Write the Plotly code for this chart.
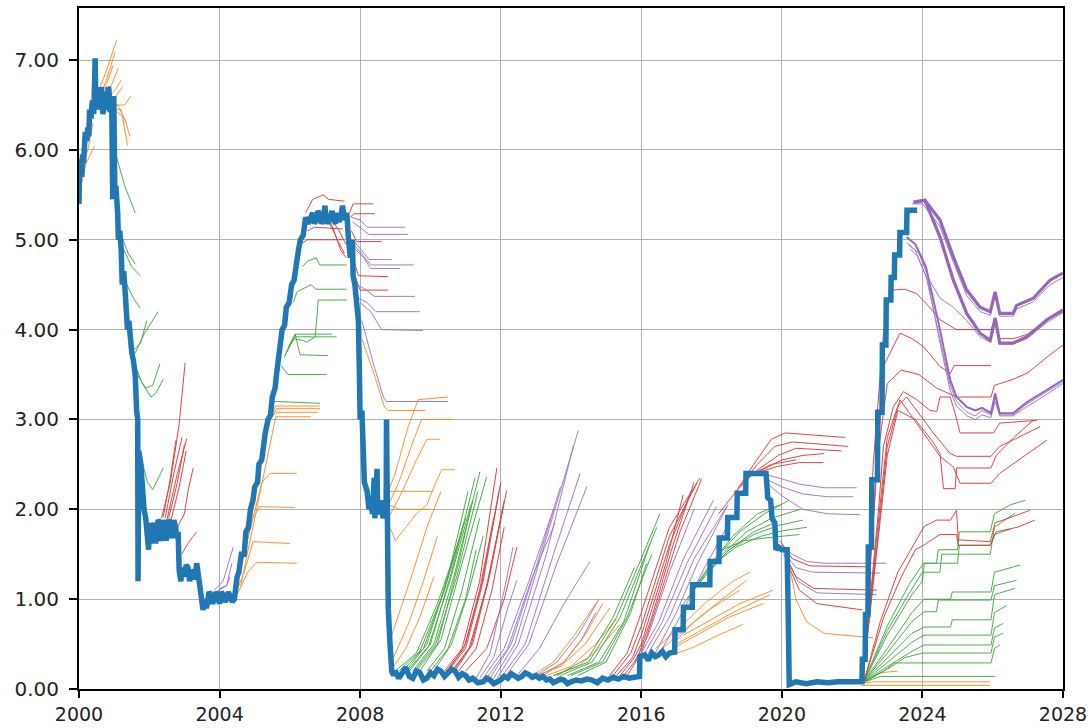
import plotly.graph_objects as go

BLUE = "#1f77b4"
ORANGE = "#ff7f0e"
GREEN = "#2ca02c"
RED = "#d62728"
PURPLE = "#9467bd"

# ---------------- realised short rate (thick blue) ----------------
blue_years = [
    2000.00, 2000.02, 2000.04, 2000.05, 2000.08, 2000.10, 2000.13, 2000.15, 2000.18, 2000.22,
    2000.25, 2000.28, 2000.30, 2000.34, 2000.38, 2000.42, 2000.46, 2000.48, 2000.52, 2000.55,
    2000.58, 2000.60, 2000.63, 2000.65, 2000.68, 2000.70, 2000.73, 2000.75, 2000.78, 2000.80,
    2000.83, 2000.85, 2000.88, 2000.90, 2000.93, 2000.96, 2000.99, 2001.02, 2001.05, 2001.10,
    2001.12, 2001.16, 2001.20, 2001.23, 2001.27, 2001.30, 2001.33, 2001.38, 2001.42, 2001.45,
    2001.50, 2001.55, 2001.60, 2001.64, 2001.67, 2001.68, 2001.70, 2001.76, 2001.80, 2001.85,
    2001.90, 2001.95, 2001.98, 2002.00, 2002.03, 2002.05, 2002.08, 2002.10, 2002.13, 2002.15,
    2002.18, 2002.20, 2002.25, 2002.30, 2002.33, 2002.35, 2002.40, 2002.45, 2002.48, 2002.50,
    2002.55, 2002.60, 2002.63, 2002.65, 2002.70, 2002.75, 2002.78, 2002.82, 2002.85, 2002.90,
    2002.93, 2002.95, 2003.00, 2003.05, 2003.10, 2003.15, 2003.20, 2003.25, 2003.30, 2003.35,
    2003.40, 2003.45, 2003.50, 2003.53, 2003.58, 2003.62, 2003.65, 2003.70, 2003.75, 2003.80,
    2003.85, 2003.90, 2003.95, 2004.00, 2004.05, 2004.10, 2004.15, 2004.20, 2004.25, 2004.30,
    2004.36, 2004.42, 2004.45, 2004.50, 2004.55, 2004.62, 2004.70, 2004.75, 2004.82, 2004.88,
    2004.95, 2005.00, 2005.08, 2005.12, 2005.20, 2005.25, 2005.30, 2005.38, 2005.45, 2005.50,
    2005.58, 2005.62, 2005.70, 2005.78, 2005.85, 2005.90, 2005.98, 2006.05, 2006.12, 2006.18,
    2006.25, 2006.30, 2006.38, 2006.45, 2006.52, 2006.60, 2006.65, 2006.70, 2006.75, 2006.80,
    2006.85, 2006.90, 2006.95, 2007.00, 2007.02, 2007.08, 2007.15, 2007.20, 2007.25, 2007.30,
    2007.35, 2007.40, 2007.45, 2007.50, 2007.55, 2007.62, 2007.66, 2007.72, 2007.78, 2007.80,
    2007.85, 2007.90, 2007.95, 2007.98, 2008.00, 2008.05, 2008.08, 2008.12, 2008.20, 2008.25,
    2008.30, 2008.35, 2008.40, 2008.42, 2008.48, 2008.50, 2008.55, 2008.60, 2008.65, 2008.70,
    2008.74, 2008.75, 2008.76, 2008.80, 2008.85, 2008.90, 2008.95, 2009.00, 2009.10, 2009.20,
    2009.30, 2009.40, 2009.50, 2009.60, 2009.70, 2009.80, 2009.90, 2010.00, 2010.10, 2010.20,
    2010.30, 2010.40, 2010.50, 2010.60, 2010.70, 2010.80, 2010.90, 2011.00, 2011.10, 2011.20,
    2011.35, 2011.50, 2011.60, 2011.70, 2011.80, 2011.90, 2012.00, 2012.10, 2012.20, 2012.30,
    2012.40, 2012.50, 2012.60, 2012.70, 2012.80, 2012.90, 2013.00, 2013.10, 2013.20, 2013.30,
    2013.40, 2013.50, 2013.60, 2013.70, 2013.80, 2013.90, 2014.00, 2014.15, 2014.30, 2014.45,
    2014.60, 2014.75, 2014.90, 2015.05, 2015.20, 2015.35, 2015.50, 2015.65, 2015.80, 2015.95,
    2015.96, 2016.10, 2016.20, 2016.30, 2016.40, 2016.50, 2016.60, 2016.70, 2016.80, 2016.95,
    2016.96, 2017.19, 2017.20, 2017.45, 2017.46, 2017.95, 2017.96, 2018.21, 2018.22, 2018.45,
    2018.46, 2018.72, 2018.73, 2018.97, 2018.98, 2019.20, 2019.40, 2019.55, 2019.60, 2019.68,
    2019.72, 2019.80, 2019.83, 2019.90, 2020.00, 2020.15, 2020.17, 2020.21, 2020.40, 2020.70,
    2021.00, 2021.30, 2021.60, 2021.90, 2022.20, 2022.28, 2022.29, 2022.37, 2022.38, 2022.45,
    2022.46, 2022.55, 2022.56, 2022.72, 2022.73, 2022.85, 2022.86, 2022.96, 2022.97, 2023.10,
    2023.11, 2023.20, 2023.21, 2023.35, 2023.36, 2023.55, 2023.56, 2023.85,
]
blue_rates = [
    5.40, 5.90, 5.65, 5.80, 5.70, 5.95, 5.85, 6.00, 6.20, 6.10,
    6.25, 6.15, 6.45, 6.35, 6.55, 6.40, 7.02, 6.45, 6.65, 6.70,
    6.45, 6.50, 6.70, 6.65, 6.40, 6.45, 6.65, 6.60, 6.45, 6.50,
    6.70, 6.68, 6.45, 6.45, 6.60, 5.45, 6.60, 5.50, 5.60, 5.30,
    5.00, 5.10, 4.90, 4.50, 4.65, 4.50, 4.20, 4.00, 4.10, 3.90,
    3.75, 3.65, 3.50, 3.10, 3.00, 1.20, 2.65, 2.50, 2.20, 2.00,
    1.90, 1.70, 1.55, 1.75, 1.62, 1.85, 1.68, 1.65, 1.85, 1.80,
    1.62, 1.70, 1.88, 1.85, 1.65, 1.70, 1.88, 1.80, 1.65, 1.70,
    1.88, 1.85, 1.68, 1.72, 1.88, 1.80, 1.68, 1.75, 1.32, 1.20,
    1.35, 1.32, 1.25, 1.38, 1.35, 1.20, 1.32, 1.30, 1.22, 1.40,
    1.25, 1.05, 0.95, 0.88, 1.00, 0.90, 0.95, 1.08, 1.05, 0.95,
    1.00, 1.08, 1.02, 0.95, 1.08, 1.05, 0.97, 1.00, 1.08, 1.03,
    0.97, 1.00, 1.10, 1.25, 1.30, 1.50, 1.50, 1.75, 1.80, 2.00,
    2.10, 2.25, 2.30, 2.50, 2.55, 2.75, 2.85, 3.00, 3.05, 3.25,
    3.35, 3.50, 3.75, 4.00, 4.05, 4.25, 4.30, 4.50, 4.55, 4.75,
    4.90, 5.00, 5.05, 5.25, 5.18, 5.25, 5.30, 5.18, 5.22, 5.32,
    5.28, 5.18, 5.22, 5.38, 5.25, 5.18, 5.28, 5.32, 5.22, 5.18,
    5.30, 5.20, 5.25, 5.38, 5.22, 5.30, 5.05, 4.80, 5.00, 4.60,
    4.50, 4.25, 4.10, 3.50, 3.00, 3.10, 2.75, 2.30, 2.20, 2.00,
    2.10, 1.95, 2.35, 1.90, 2.45, 1.95, 2.00, 2.10, 1.90, 2.00,
    2.05, 3.00, 1.50, 0.90, 0.50, 0.20, 0.15, 0.20, 0.12, 0.18,
    0.24, 0.14, 0.12, 0.20, 0.18, 0.10, 0.12, 0.18, 0.15, 0.22,
    0.20, 0.14, 0.18, 0.22, 0.20, 0.13, 0.17, 0.15, 0.10, 0.12,
    0.07, 0.08, 0.12, 0.10, 0.06, 0.08, 0.10, 0.14, 0.12, 0.17,
    0.15, 0.12, 0.14, 0.18, 0.16, 0.13, 0.15, 0.12, 0.14, 0.10,
    0.11, 0.07, 0.09, 0.11, 0.10, 0.06, 0.08, 0.10, 0.09, 0.11,
    0.10, 0.07, 0.12, 0.10, 0.13, 0.11, 0.14, 0.12, 0.13, 0.14,
    0.36, 0.38, 0.32, 0.40, 0.36, 0.38, 0.42, 0.36, 0.40, 0.41,
    0.66, 0.66, 0.91, 0.91, 1.16, 1.16, 1.42, 1.42, 1.68, 1.68,
    1.91, 1.91, 2.18, 2.18, 2.40, 2.40, 2.40, 2.40, 2.13, 2.10,
    1.90, 1.85, 1.55, 1.58, 1.55, 1.55, 1.10, 0.05, 0.08, 0.06,
    0.08, 0.07, 0.08, 0.08, 0.08, 0.08, 0.33, 0.33, 0.83, 0.83,
    1.58, 1.58, 2.33, 2.33, 3.08, 3.08, 3.83, 3.83, 4.33, 4.33,
    4.58, 4.58, 4.83, 4.83, 5.08, 5.08, 5.33, 5.33,
]

# ---------------- forward curves (years, rates) ----------------
orange_2000 = [
    ([2000.0, 2000.2, 2000.45], [5.5, 5.85, 6.05]),
    ([2000.05, 2000.25, 2000.4], [5.75, 6.0, 6.3]),
    ([2000.45, 2000.75, 2001.07], [6.55, 6.85, 7.22]),
    ([2000.5, 2000.8, 2001.02], [6.5, 6.8, 7.08]),
    ([2000.55, 2000.8, 2000.97], [6.55, 6.75, 6.94]),
    ([2000.6, 2000.9, 2001.12], [6.5, 6.7, 6.91]),
    ([2000.7, 2001.0, 2001.21], [6.55, 6.65, 6.78]),
    ([2000.75, 2001.05, 2001.24], [6.5, 6.6, 6.7]),
    ([2000.9, 2001.2, 2001.38], [6.45, 6.45, 6.05]),
    ([2000.95, 2001.3, 2001.48], [6.5, 6.5, 6.6]),
    ([2001.0, 2001.3, 2001.45], [6.45, 6.35, 6.15]),
    ([2000.85, 2001.1, 2001.35], [6.55, 6.5, 6.3]),
]
green_2001 = [
    ([2001.05, 2001.3, 2001.6], [5.95, 5.6, 5.3]),
    ([2001.15, 2001.4, 2001.6], [5.1, 4.85, 4.73]),
    ([2001.2, 2001.5, 2001.74], [4.95, 4.7, 4.6]),
    ([2001.3, 2001.55, 2001.74], [4.55, 4.35, 4.24]),
    ([2001.55, 2001.85, 2002.25], [3.7, 3.95, 4.2]),
    ([2001.5, 2001.75, 2001.93], [3.75, 3.85, 4.1]),
    ([2001.6, 2001.8, 2002.05, 2002.2, 2002.4], [3.6, 3.4, 3.25, 3.3, 3.45]),
    ([2001.65, 2001.9, 2002.1, 2002.3], [3.5, 3.35, 3.38, 3.62]),
    ([2001.75, 2001.95, 2002.1, 2002.4], [2.6, 2.3, 2.22, 2.46]),
]
red_2002 = [
    ([2002.35, 2002.6, 2002.85, 2003.02], [1.9, 2.3, 2.95, 3.63]),
    ([2002.45, 2002.7, 2002.93], [1.9, 2.4, 2.8]),
    ([2002.5, 2002.8, 2003.07], [1.88, 2.4, 2.79]),
    ([2002.4, 2002.6, 2002.76], [1.92, 2.35, 2.77]),
    ([2002.55, 2002.8, 2003.0], [1.9, 2.3, 2.72]),
    ([2002.6, 2002.85, 2003.05], [1.85, 2.25, 2.65]),
    ([2002.92, 2003.1, 2003.25, 2003.35], [1.5, 1.62, 1.7, 1.75]),
    ([2002.8, 2003.0, 2003.1, 2003.25], [1.8, 1.95, 2.2, 2.46]),
]
purple_2004 = [
    ([2003.85, 2004.1, 2004.39], [1.1, 1.2, 1.58]),
    ([2003.9, 2004.2, 2004.35], [1.08, 1.15, 1.4]),
    ([2004.0, 2004.2, 2004.3], [1.12, 1.15, 1.25]),
]
orange_2005 = [
    ([2004.45, 2004.7, 2004.95, 2006.0], [1.05, 1.3, 1.64, 1.62]),
    ([2004.5, 2004.8, 2005.06, 2006.2], [1.05, 1.3, 1.41, 1.4]),
    ([2004.7, 2004.95, 2005.15, 2006.15], [1.5, 1.9, 2.03, 2.02]),
    ([2004.95, 2005.2, 2005.44, 2006.2], [1.9, 2.3, 2.4, 2.4]),
    ([2004.6, 2005.0, 2005.3, 2005.6, 2006.6], [1.15, 1.9, 2.5, 3.03, 3.03]),
    ([2005.4, 2005.6, 2006.86], [3.0, 3.15, 3.15]),
    ([2005.45, 2005.62, 2006.86], [3.0, 3.12, 3.12]),
    ([2005.5, 2005.65, 2006.8], [3.05, 3.08, 3.08]),
]
green_2006 = [
    ([2005.55, 2005.65, 2006.86], [3.2, 3.2, 3.18]),
    ([2005.75, 2005.95, 2007.05], [3.6, 3.5, 3.5]),
    ([2005.85, 2006.1, 2006.37, 2006.48, 2006.72, 2006.81, 2007.62], [3.7, 3.9, 3.88, 3.86, 3.92, 4.33, 4.33]),
    ([2005.9, 2006.15, 2007.33], [3.75, 3.92, 3.92]),
    ([2005.95, 2006.15, 2007.2], [3.8, 3.95, 3.95]),
    ([2005.85, 2006.15, 2006.29, 2007.09], [3.7, 3.95, 3.72, 3.71]),
    ([2006.1, 2006.2, 2006.6, 2006.75, 2007.62], [4.3, 4.42, 4.5, 4.45, 4.45]),
    ([2006.35, 2006.5, 2006.75, 2006.85, 2007.62], [4.7, 4.76, 4.8, 4.72, 4.72]),
]
red_2007 = [
    ([2006.3, 2006.5, 2007.52], [4.95, 5.0, 5.0]),
    ([2006.45, 2006.65, 2006.95, 2007.1, 2007.55], [5.3, 5.45, 5.5, 5.45, 5.43]),
    ([2007.1, 2007.3, 2007.45, 2007.6], [5.2, 5.05, 4.88, 4.8]),
    ([2007.15, 2007.35, 2007.55], [5.2, 5.0, 4.85]),
    ([2007.2, 2007.4, 2007.6], [5.22, 5.1, 4.95]),
    ([2007.7, 2007.8, 2008.37], [5.3, 5.4, 5.4]),
    ([2007.72, 2007.82, 2008.42], [5.25, 5.29, 5.29]),
    ([2006.5, 2006.7, 2007.5], [5.1, 5.14, 5.12]),
    ([2007.75, 2007.9, 2008.61], [5.1, 4.98, 4.98]),
    ([2007.8, 2007.95, 2008.8], [4.8, 4.6, 4.59]),
    ([2007.85, 2008.0, 2008.8], [4.6, 4.44, 4.44]),
]
purple_2008 = [
    ([2007.75, 2008.0, 2008.2, 2009.28], [5.25, 5.22, 5.14, 5.14]),
    ([2007.78, 2008.05, 2008.25, 2009.36], [5.2, 5.12, 5.06, 5.06]),
    ([2007.8, 2008.05, 2008.25, 2008.9], [5.0, 4.88, 4.78, 4.78]),
    ([2007.82, 2008.1, 2008.3, 2009.52], [4.95, 4.82, 4.72, 4.72]),
    ([2007.85, 2008.1, 2008.3, 2009.14], [4.9, 4.8, 4.68, 4.68]),
    ([2007.9, 2008.15, 2008.4, 2009.56], [4.5, 4.45, 4.37, 4.37]),
    ([2007.95, 2008.2, 2008.45, 2009.7], [4.35, 4.3, 4.2, 4.2]),
    ([2008.0, 2008.3, 2008.61, 2009.79], [4.3, 4.2, 4.0, 3.99]),
    ([2008.05, 2008.37, 2008.66, 2008.75, 2010.5], [4.1, 3.63, 3.25, 3.2, 3.2]),
]
orange_2009 = [
    ([2008.05, 2008.4, 2008.68, 2008.8, 2009.85], [3.9, 3.5, 3.15, 3.1, 3.1]),
    ([2008.7, 2009.0, 2009.35, 2009.65, 2010.5], [2.1, 2.4, 2.9, 3.22, 3.25]),
    ([2008.75, 2009.1, 2009.5, 2009.75, 2010.65], [2.0, 2.3, 2.75, 3.0, 3.0]),
    ([2008.8, 2009.2, 2009.6, 2009.9, 2010.27], [1.9, 2.2, 2.55, 2.78, 2.78]),
    ([2008.85, 2009.0, 2009.3, 2009.6, 2009.9, 2010.1, 2010.32, 2010.7], [1.8, 1.65, 1.8, 1.95, 2.05, 2.25, 2.44, 2.44]),
    ([2008.8, 2009.13, 2010.08], [2.2, 2.2, 2.2]),
    ([2008.8, 2009.13, 2010.0], [2.05, 2.0, 2.0]),
    ([2008.9, 2009.2, 2009.5, 2009.9, 2010.3], [0.6, 0.95, 1.3, 1.8, 2.2]),
    ([2008.95, 2009.4, 2009.8, 2010.2], [0.35, 0.75, 1.2, 1.7]),
    ([2008.95, 2009.3, 2009.7, 2010.1], [0.25, 0.45, 0.8, 1.25]),
]
green_2010 = [
    ([2009.0, 2009.6, 2010.2, 2010.9], [0.2, 0.4, 0.95, 1.75]),
    ([2009.1, 2009.7, 2010.3, 2010.95], [0.2, 0.42, 1.0, 1.85]),
    ([2009.2, 2009.8, 2010.4, 2011.0], [0.2, 0.45, 1.1, 1.9]),
    ([2009.3, 2009.9, 2010.5, 2011.07], [0.2, 0.5, 1.25, 2.2]),
    ([2009.35, 2009.95, 2010.55, 2011.15], [0.2, 0.48, 1.2, 2.05]),
    ([2009.4, 2010.0, 2010.6, 2011.27], [0.2, 0.5, 1.3, 2.35]),
    ([2009.5, 2010.1, 2010.7, 2011.41], [0.2, 0.5, 1.3, 2.42]),
    ([2009.55, 2010.15, 2010.75, 2011.35], [0.2, 0.5, 1.25, 2.2]),
    ([2009.7, 2010.3, 2010.9, 2011.6], [0.2, 0.55, 1.4, 2.36]),
    ([2009.9, 2010.4, 2010.9, 2011.4], [0.2, 0.45, 1.1, 1.9]),
    ([2010.0, 2010.5, 2011.0, 2011.3], [0.2, 0.45, 1.0, 1.55]),
    ([2009.6, 2010.2, 2010.8, 2011.2], [0.2, 0.5, 1.4, 2.1]),
    ([2010.1, 2010.6, 2011.1, 2011.5], [0.2, 0.5, 1.1, 1.7]),
]
red_2011 = [
    ([2010.4, 2010.9, 2011.4, 2011.89], [0.2, 0.45, 1.2, 2.46]),
    ([2010.45, 2010.95, 2011.45, 2011.95], [0.2, 0.45, 1.15, 2.2]),
    ([2010.5, 2011.0, 2011.5, 2012.0], [0.2, 0.45, 1.2, 2.3]),
    ([2010.6, 2011.1, 2011.6, 2012.07], [0.2, 0.45, 1.15, 2.03]),
    ([2010.65, 2011.15, 2011.65, 2012.1], [0.2, 0.48, 1.2, 2.1]),
    ([2010.7, 2011.2, 2011.7, 2012.17], [0.2, 0.5, 1.3, 2.21]),
    ([2010.8, 2011.3, 2011.75, 2012.1], [0.2, 0.45, 1.1, 1.8]),
    ([2010.5, 2011.0, 2011.4, 2011.8], [0.2, 0.5, 1.1, 1.9]),
    ([2011.0, 2011.6, 2012.1, 2012.46], [0.2, 0.45, 1.0, 1.58]),
]
purple_2012 = [
    ([2011.8, 2012.4, 2013.2, 2014.21], [0.12, 0.5, 1.55, 2.88]),
    ([2011.9, 2012.5, 2013.3, 2014.07], [0.12, 0.5, 1.5, 2.71]),
    ([2012.0, 2012.7, 2013.5, 2014.26], [0.12, 0.5, 1.5, 2.4]),
    ([2012.1, 2012.8, 2013.6, 2014.45], [0.12, 0.5, 1.4, 2.25]),
    ([2012.4, 2013.1, 2013.8, 2014.54], [0.12, 0.45, 0.95, 1.42]),
    ([2011.5, 2012.1, 2012.8, 2013.5], [0.12, 0.45, 1.2, 2.0]),
    ([2011.4, 2011.8, 2012.2, 2012.46], [0.12, 0.35, 0.9, 1.21]),
    ([2011.3, 2011.7, 2012.1, 2012.35], [0.12, 0.4, 1.1, 1.58]),
    ([2011.7, 2012.3, 2013.0, 2013.7], [0.12, 0.5, 1.35, 2.25]),
    ([2011.6, 2012.2, 2012.9, 2013.55], [0.12, 0.45, 1.25, 1.85]),
    ([2013.0, 2013.6, 2014.2, 2014.8], [0.15, 0.3, 0.6, 1.0]),
    ([2013.2, 2013.8, 2014.3, 2014.7], [0.15, 0.3, 0.55, 0.85]),
]
orange_2014 = [
    ([2013.0, 2013.7, 2014.4, 2015.1], [0.15, 0.25, 0.5, 0.9]),
    ([2013.3, 2014.0, 2014.7, 2015.3], [0.15, 0.25, 0.5, 0.78]),
    ([2013.5, 2014.2, 2014.8, 2015.4], [0.15, 0.25, 0.45, 0.72]),
    ([2013.1, 2013.8, 2014.4, 2014.9], [0.15, 0.3, 0.6, 0.95]),
    ([2012.9, 2013.5, 2014.1, 2014.7], [0.15, 0.3, 0.6, 0.95]),
]
green_2015 = [
    ([2013.5, 2014.5, 2015.3, 2016.0, 2016.53], [0.15, 0.3, 0.8, 1.45, 1.95]),
    ([2013.7, 2014.6, 2015.4, 2016.44], [0.15, 0.3, 0.8, 1.8]),
    ([2013.9, 2014.8, 2015.5, 2016.25], [0.15, 0.3, 0.75, 1.62]),
    ([2014.0, 2014.9, 2015.6, 2016.3], [0.15, 0.3, 0.8, 1.5]),
    ([2014.2, 2015.0, 2015.7, 2016.15], [0.15, 0.3, 0.85, 1.4]),
    ([2013.6, 2014.5, 2015.2, 2015.8], [0.15, 0.35, 0.8, 1.35]),
]
red_2016 = [
    ([2015.1, 2015.6, 2016.0, 2016.8, 2017.67], [0.15, 0.4, 0.85, 1.8, 2.35]),
    ([2015.2, 2015.7, 2016.0, 2016.8, 2017.58], [0.15, 0.4, 0.7, 1.7, 2.29]),
    ([2015.3, 2015.75, 2016.0, 2016.8, 2017.43], [0.15, 0.35, 0.6, 1.6, 2.21]),
    ([2015.4, 2015.8, 2016.0, 2016.7, 2017.19], [0.15, 0.35, 0.5, 1.4, 2.16]),
    ([2015.5, 2015.9, 2016.3, 2016.9, 2017.5], [0.15, 0.35, 0.8, 1.6, 2.3]),
    ([2015.6, 2016.0, 2016.5, 2017.1, 2017.72], [0.15, 0.4, 1.0, 1.75, 2.34]),
]
purple_2017 = [
    ([2016.0, 2016.5, 2017.2, 2018.05], [0.4, 0.75, 1.45, 2.1]),
    ([2016.1, 2016.6, 2017.3, 2018.14], [0.4, 0.75, 1.4, 2.03]),
    ([2016.2, 2016.8, 2017.5, 2018.43], [0.4, 0.8, 1.45, 2.03]),
    ([2016.4, 2017.0, 2017.6, 2018.47], [0.4, 0.85, 1.4, 2.05]),
    ([2016.6, 2017.1, 2017.8, 2018.5], [0.45, 0.8, 1.35, 1.85]),
    ([2015.8, 2016.2, 2016.8, 2017.5], [0.3, 0.6, 1.3, 2.0]),
]
orange_2018 = [
    ([2016.4, 2017.0, 2017.8, 2018.6, 2019.1], [0.45, 0.65, 0.95, 1.2, 1.3]),
    ([2016.6, 2017.2, 2018.0, 2018.8], [0.45, 0.65, 0.9, 1.1]),
    ([2016.9, 2017.5, 2018.3, 2019.0], [0.5, 0.75, 1.0, 1.21]),
    ([2016.9, 2017.6, 2018.5, 2019.47], [0.45, 0.6, 0.8, 0.95]),
    ([2017.0, 2017.7, 2018.6, 2019.66], [0.5, 0.65, 0.85, 1.05]),
    ([2017.2, 2017.9, 2018.8, 2019.75], [0.6, 0.75, 0.95, 1.1]),
    ([2016.6, 2017.4, 2018.2, 2018.9], [0.35, 0.45, 0.6, 0.72]),
]
green_2019 = [
    ([2017.3, 2017.9, 2018.6, 2019.3, 2019.95], [1.0, 1.35, 1.7, 1.95, 2.05]),
    ([2017.5, 2018.1, 2018.8, 2019.5, 2020.2], [1.1, 1.45, 1.75, 1.95, 2.1]),
    ([2017.7, 2018.3, 2019.0, 2019.7, 2020.52], [1.2, 1.5, 1.75, 1.9, 2.0]),
    ([2017.9, 2018.5, 2019.2, 2019.9, 2020.6], [1.3, 1.55, 1.72, 1.82, 1.88]),
    ([2018.1, 2018.7, 2019.4, 2020.0, 2020.71], [1.4, 1.58, 1.7, 1.76, 1.8]),
    ([2018.3, 2018.9, 2019.5, 2020.1, 2020.5], [1.55, 1.65, 1.68, 1.7, 1.72]),
    ([2017.2, 2017.8, 2018.5, 2019.2, 2019.8], [0.95, 1.25, 1.55, 1.75, 1.85]),
]
red_2019 = [
    ([2018.7, 2019.2, 2019.7, 2020.1, 2021.8], [2.2, 2.5, 2.78, 2.85, 2.8]),
    ([2018.8, 2019.3, 2019.8, 2020.3, 2021.89], [2.25, 2.5, 2.7, 2.75, 2.7]),
    ([2018.9, 2019.35, 2019.9, 2020.4, 2021.7], [2.3, 2.45, 2.6, 2.68, 2.65]),
    ([2019.0, 2019.5, 2020.0, 2020.6, 2021.2], [2.35, 2.45, 2.55, 2.6, 2.62]),
    ([2018.95, 2019.4, 2019.9, 2020.5, 2021.18], [2.38, 2.42, 2.48, 2.52, 2.52]),
    ([2018.2, 2018.7, 2019.2, 2019.7, 2020.4], [1.95, 2.2, 2.4, 2.5, 2.55]),
]
purple_2019 = [
    ([2019.4, 2019.9, 2020.5, 2021.2, 2022.13], [2.4, 2.35, 2.28, 2.24, 2.24]),
    ([2019.5, 2020.0, 2020.6, 2021.3, 2022.03], [2.35, 2.25, 2.17, 2.14, 2.14]),
    ([2019.55, 2020.0, 2020.6, 2021.3, 2022.23], [2.3, 2.15, 2.0, 1.95, 1.94]),
]
purple_2020 = [
    ([2020.0, 2020.3, 2020.7, 2021.2, 2022.98], [1.6, 1.5, 1.42, 1.4, 1.4]),
    ([2020.0, 2020.4, 2020.9, 2022.8], [1.55, 1.35, 1.3, 1.29]),
    ([2020.1, 2020.45, 2021.0, 2022.7], [1.5, 1.2, 1.07, 1.05]),
]
red_2020 = [
    ([2019.95, 2020.3, 2020.8, 2022.5], [1.65, 1.45, 1.37, 1.36]),
    ([2020.05, 2020.4, 2020.9, 2022.7], [1.5, 1.25, 1.12, 1.1]),
    ([2020.1, 2020.5, 2021.0, 2022.3], [1.45, 1.1, 0.95, 0.88]),
]
orange_2020 = [
    ([2020.15, 2020.4, 2020.7, 2021.2, 2022.6], [1.5, 1.0, 0.75, 0.62, 0.57]),
    ([2022.25, 2022.6, 2025.92], [0.06, 0.08, 0.08]),
    ([2022.25, 2025.92], [0.04, 0.04]),
    ([2022.3, 2022.8, 2023.3], [0.07, 0.18, 0.2]),
]
green_2022 = [
    ([2022.3, 2023.0, 2023.7, 2024.05, 2024.8, 2024.85, 2025.95, 2026.05, 2026.78],
     [0.07, 0.45, 0.85, 1.0, 1.0, 1.08, 1.08, 1.3, 1.38]),
    ([2022.3, 2023.0, 2023.7, 2024.05, 2024.4, 2024.45, 2025.95, 2026.05, 2026.68],
     [0.07, 0.4, 0.75, 0.86, 0.86, 0.99, 0.99, 1.15, 1.21]),
    ([2022.3, 2023.0, 2023.7, 2024.05, 2024.8, 2024.85, 2025.95, 2026.05, 2026.63],
     [0.07, 0.35, 0.62, 0.69, 0.69, 0.77, 0.77, 1.05, 1.12]),
    ([2022.3, 2023.0, 2023.7, 2024.05, 2025.95, 2026.05, 2026.4], [0.07, 0.3, 0.52, 0.6, 0.6, 0.85, 0.93]),
    ([2022.3, 2023.0, 2023.7, 2024.05, 2025.95, 2026.05, 2026.3], [0.07, 0.25, 0.42, 0.49, 0.49, 0.68, 0.73]),
    ([2022.3, 2023.0, 2023.5, 2024.0, 2025.95, 2026.05, 2026.3], [0.07, 0.22, 0.35, 0.4, 0.4, 0.58, 0.62]),
    ([2022.3, 2022.9, 2023.2, 2025.95, 2026.05, 2026.2], [0.07, 0.2, 0.29, 0.29, 0.45, 0.49]),
    ([2022.3, 2022.8, 2026.07], [0.07, 0.14, 0.14]),
    ([2022.35, 2023.0, 2023.6, 2024.03, 2024.4, 2024.45, 2025.0, 2025.05, 2025.93, 2026.05, 2026.5, 2026.92],
     [0.1, 0.7, 1.15, 1.4, 1.4, 1.55, 1.55, 1.75, 1.75, 1.95, 2.05, 2.1]),
    ([2022.35, 2023.0, 2023.6, 2024.0, 2024.5, 2024.55, 2025.93, 2026.05, 2026.64],
     [0.1, 0.65, 1.05, 1.3, 1.3, 1.5, 1.5, 1.8, 1.96]),
    ([2022.35, 2023.0, 2023.7, 2024.0, 2024.05, 2025.0, 2025.05, 2025.93, 2026.05, 2026.5],
     [0.1, 0.6, 1.05, 1.2, 1.4, 1.4, 1.6, 1.6, 1.72, 1.78]),
]
red_2022 = [
    ([2022.35, 2022.8, 2023.3, 2023.8, 2024.05, 2024.4, 2024.8, 2024.97, 2025.02, 2025.93, 2026.07, 2026.58, 2027.06],
     [0.1, 0.75, 1.3, 1.65, 1.81, 1.88, 1.88, 1.99, 1.66, 1.64, 1.85, 1.92, 1.99]),
    ([2022.35, 2022.9, 2023.4, 2023.8, 2024.03, 2024.5, 2024.97, 2025.02, 2025.93, 2026.1, 2026.7, 2027.2],
     [0.1, 0.8, 1.25, 1.55, 1.6, 1.72, 1.72, 1.6, 1.6, 1.75, 1.8, 1.88]),
]
red_2023 = [
    ([2022.3, 2022.75, 2022.89, 2023.17, 2023.46, 2023.84, 2024.22, 2024.41, 2024.5, 2024.79, 2024.93, 2025.07,
      2026.02, 2026.2, 2027.25],
     [0.1, 1.99, 2.7, 3.14, 3.31, 3.22, 3.1, 3.09, 3.25, 3.25, 3.07, 2.85, 2.85, 2.96, 2.99]),
    ([2022.3, 2022.7, 2023.0, 2023.3, 2023.55, 2024.31, 2024.79, 2024.97, 2025.95, 2026.2, 2027.35],
     [0.1, 1.7, 2.8, 3.15, 3.25, 2.85, 2.62, 2.59, 2.59, 2.7, 2.92]),
    ([2022.3, 2022.7, 2023.0, 2023.36, 2024.03, 2024.5, 2024.88, 2025.07, 2025.95, 2026.2, 2027.54],
     [0.1, 1.6, 2.7, 3.22, 2.85, 2.59, 2.47, 2.29, 2.29, 2.4, 2.77]),
    ([2022.3, 2022.7, 2023.0, 2023.3, 2023.8, 2024.3, 2024.5, 2024.6, 2024.93, 2024.97, 2025.95, 2026.1, 2026.6, 2027.15],
     [0.1, 1.5, 2.6, 3.1, 3.0, 2.75, 2.62, 2.23, 2.23, 2.46, 2.46, 2.6, 2.8, 2.99]),
    ([2022.3, 2022.7, 2023.0, 2023.4, 2023.9, 2024.4, 2024.8, 2024.97, 2025.95, 2026.05, 2026.6, 2027.0, 2027.5, 2028.0],
     [0.1, 2.5, 3.4, 3.55, 3.5, 3.35, 3.28, 3.25, 3.25, 3.38, 3.45, 3.52, 3.68, 3.83]),
    ([2022.3, 2022.6, 2022.9, 2023.1, 2023.5, 2023.84, 2024.2, 2024.5, 2024.97, 2025.95, 2026.05, 2026.2, 2026.6,
      2027.0, 2027.5, 2028.0],
     [0.1, 2.5, 4.0, 4.44, 4.45, 4.4, 4.25, 4.11, 4.0, 4.0, 4.1, 3.9, 3.9, 3.95, 4.1, 4.2]),
    ([2022.3, 2022.6, 2022.9, 2023.36, 2023.7, 2024.03, 2024.5, 2024.79, 2024.9, 2025.95],
     [0.1, 1.8, 3.6, 3.96, 3.9, 3.81, 3.59, 3.51, 3.6, 3.6]),
]
purple_2023_thin = [
    ([2023.55, 2023.8, 2024.1, 2024.5, 2024.79, 2024.97, 2025.26, 2025.5, 2025.7, 2025.95, 2026.07, 2026.2,
      2026.58, 2027.0, 2027.5, 2028.0],
     [4.97, 4.88, 4.6, 3.9, 3.38, 3.2, 3.08, 3.04, 3.1, 3.05, 3.25, 3.05, 3.05, 3.18, 3.3, 3.42]),
    ([2023.65, 2023.85, 2024.15, 2024.5, 2024.79, 2024.97, 2025.26, 2025.5, 2025.7, 2025.95, 2026.07, 2026.2,
      2026.58, 2027.0, 2027.5, 2028.0],
     [4.9, 4.82, 4.55, 3.85, 3.32, 3.15, 3.04, 3.0, 3.05, 3.02, 3.2, 3.04, 3.04, 3.15, 3.27, 3.4]),
    ([2023.6, 2023.9, 2024.2, 2024.5, 2024.88, 2025.26, 2025.64, 2025.93, 2026.07, 2026.2, 2026.58, 2026.97,
      2027.54, 2028.0],
     [4.95, 4.85, 4.55, 4.35, 4.25, 4.1, 3.92, 3.86, 4.08, 3.84, 3.84, 3.9, 4.08, 4.19]),
    ([2023.7, 2024.0, 2024.5, 2024.88, 2025.26, 2025.64, 2025.93, 2026.07, 2026.2, 2026.58, 2026.68, 2027.16,
      2027.63, 2028.0],
     [5.4, 5.4, 5.15, 4.75, 4.38, 4.2, 4.16, 4.38, 4.15, 4.15, 4.23, 4.31, 4.5, 4.58]),
]
purple_2023_thick = [
    ([2023.74, 2024.07, 2024.5, 2024.88, 2025.26, 2025.64, 2025.93, 2026.07, 2026.2, 2026.58, 2026.68, 2027.16,
      2027.63, 2028.0],
     [5.42, 5.44, 5.22, 4.81, 4.44, 4.25, 4.2, 4.42, 4.18, 4.18, 4.27, 4.35, 4.55, 4.63]),
    ([2023.8, 2024.07, 2024.5, 2024.88, 2025.26, 2025.64, 2025.93, 2026.07, 2026.2, 2026.58, 2026.97, 2027.54,
      2028.0],
     [5.42, 5.44, 5.03, 4.55, 4.18, 3.96, 3.88, 4.13, 3.85, 3.85, 3.92, 4.11, 4.22]),
]
purple_2023_mid = [
    ([2023.55, 2023.8, 2024.1, 2024.5, 2024.79, 2024.97, 2025.26, 2025.5, 2025.7, 2025.95, 2026.07, 2026.2,
      2026.58, 2027.0, 2027.5, 2028.0],
     [5.03, 4.95, 4.7, 4.0, 3.44, 3.25, 3.14, 3.1, 3.13, 3.07, 3.29, 3.07, 3.07, 3.2, 3.32, 3.44]),
]

groups = [
    (orange_2000, ORANGE, 1.0), (green_2001, GREEN, 1.0), (red_2002, RED, 1.0),
    (purple_2004, PURPLE, 1.0), (orange_2005, ORANGE, 1.0), (green_2006, GREEN, 1.0),
    (red_2007, RED, 1.0), (purple_2008, PURPLE, 1.0), (orange_2009, ORANGE, 1.0),
    (green_2010, GREEN, 1.0), (red_2011, RED, 1.0), (purple_2012, PURPLE, 1.0),
    (orange_2014, ORANGE, 1.0), (green_2015, GREEN, 1.0), (red_2016, RED, 1.0),
    (purple_2017, PURPLE, 1.0), (orange_2018, ORANGE, 1.0), (green_2019, GREEN, 1.0),
    (red_2019, RED, 1.0), (purple_2019, PURPLE, 1.0), (purple_2020, PURPLE, 1.0),
    (red_2020, RED, 1.0), (orange_2020, ORANGE, 1.0), (green_2022, GREEN, 1.0),
    (red_2022, RED, 1.0), (red_2023, RED, 1.0), (purple_2023_thin, PURPLE, 1.0),
    (purple_2023_mid, PURPLE, 2.0), (purple_2023_thick, PURPLE, 3.2),
]

fig = go.Figure()
for curves, color, width in groups:
    xs, ys = [], []
    for cx, cy in curves:
        xs += list(cx) + [None]
        ys += list(cy) + [None]
    fig.add_trace(go.Scatter(x=xs, y=ys, mode="lines", connectgaps=False,
                             line=dict(color=color, width=width),
                             opacity=0.85 if width < 2 else 1.0,
                             showlegend=False, hoverinfo="skip"))

fig.add_trace(go.Scatter(x=blue_years, y=blue_rates, mode="lines",
                         line=dict(color=BLUE, width=5.5),
                         showlegend=False, hoverinfo="skip"))

x_ticks = [2000, 2004, 2008, 2012, 2016, 2020, 2024, 2028]
y_ticks = [0, 1, 2, 3, 4, 5, 6, 7]

axis_common = dict(showline=True, linecolor="black", linewidth=2, mirror=True,
                   ticks="outside", tickwidth=1.8, tickcolor="black",
                   showgrid=True, gridcolor="#b0b0b0", gridwidth=1.3, zeroline=False,
                   automargin=False)

fig.update_layout(
    width=1091, height=728,
    margin=dict(l=79, r=28, t=8, b=39),
    paper_bgcolor="white", plot_bgcolor="white",
    xaxis=dict(range=[2000, 2028], tickvals=x_ticks, ticklen=7, ticklabelstandoff=0,
               ticktext=[str(t) for t in x_ticks],
               tickfont=dict(family="DejaVu Sans", size=19, color="#222"), **axis_common),
    yaxis=dict(range=[0, 7.58], tickvals=y_ticks, tickformat=".2f", ticklen=8,
               ticklabelstandoff=6,
               tickfont=dict(family="DejaVu Sans", size=20, color="#222"), **axis_common),
)

fig.write_html("out.html")
